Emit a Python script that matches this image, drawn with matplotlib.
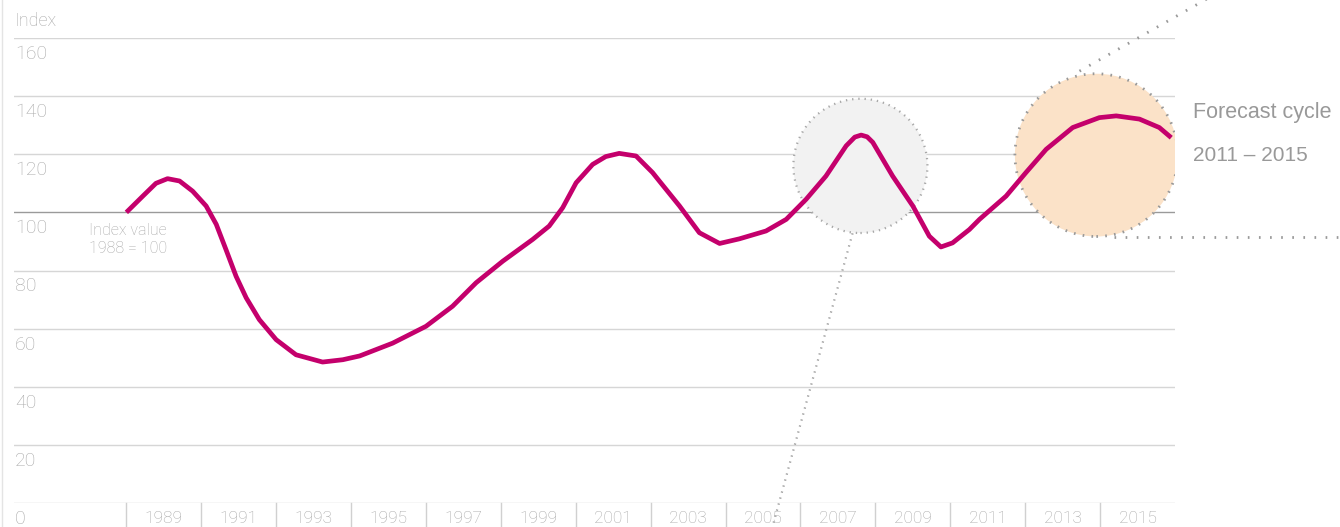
import matplotlib
matplotlib.use("Agg")
import matplotlib.pyplot as plt
import matplotlib.transforms as mtransforms
from matplotlib.patches import Ellipse

# Index curve (year, index value, 1988 = 100)
years = [1988.00, 1988.44, 1988.79, 1989.10, 1989.42, 1989.77, 1990.13, 1990.40,
         1990.66, 1990.93, 1991.20, 1991.55, 1992.00, 1992.53, 1993.24, 1993.78,
         1994.23, 1995.11, 1996.00, 1996.71, 1997.34, 1998.05, 1998.85, 1999.29,
         1999.65, 2000.01, 2000.45, 2000.80, 2001.16, 2001.61, 2002.05, 2002.23,
         2002.77, 2003.30, 2003.84, 2004.37, 2005.08, 2005.62, 2006.15, 2006.68,
         2007.22, 2007.45, 2007.62, 2007.78, 2007.93, 2008.46, 2009.00, 2009.44,
         2009.75, 2010.06, 2010.51, 2010.78, 2011.49, 2012.02, 2012.56, 2013.27,
         2013.98, 2014.43, 2015.05, 2015.58, 2015.90]
index_values = [100.0, 105.6, 110.0, 111.6, 110.8, 107.3, 102.2, 95.9,
                87.2, 78.0, 70.6, 63.1, 56.2, 51.0, 48.5, 49.3,
                50.6, 55.0, 60.8, 67.7, 75.8, 83.2, 90.7, 95.3,
                101.6, 110.2, 116.5, 119.2, 120.3, 119.4, 113.7, 110.8,
                102.2, 93.0, 89.3, 90.9, 93.6, 97.6, 104.5, 112.5,
                122.9, 125.9, 126.6, 126.0, 124.1, 112.5, 102.2, 91.8,
                88.1, 89.5, 94.1, 97.6, 105.6, 113.7, 121.7, 129.2,
                132.6, 133.2, 132.1, 129.2, 125.7]

y_ticks = [0, 20, 40, 60, 80, 100, 120, 140, 160]
x_labels = list(range(1989, 2016, 2))
separators = list(range(1988, 2016, 2))

# highlighted cycles: (center year, center value, diameter in years, diameter in index)
past_cycle = (2007.6, 116.0, 3.58, 46.2)
forecast_cycle = (2013.9, 119.7, 4.35, 56.0)

magenta = "#c4006c"
label_grey = "#a8a8a8"
text_grey = "#999999"

fig = plt.figure(figsize=(13.4, 5.27), dpi=100)
ax = fig.add_axes([14 / 1340, 24 / 527, 1161 / 1340, 465 / 527])
ax.set_xlim(1985, 2016)
ax.set_ylim(0, 160)
ax.axis("off")

# gridlines and y labels (label sits under its line)
for v in y_ticks:
    ax.axhline(v, color="#9a9a9a" if v == 100 else "#d6d6d6", lw=1.0, zorder=1)
    ax.annotate(str(v), xy=(0.001, v), xycoords=("axes fraction", "data"),
                xytext=(0, -5), textcoords="offset points", ha="left", va="top",
                fontsize=14, color=label_grey, family="Roboto", fontweight="light")
ax.annotate("Index", xy=(0.001, 160), xycoords=("axes fraction", "data"),
            xytext=(0, 6), textcoords="offset points", ha="left", va="bottom",
            fontsize=13, color=label_grey, family="Roboto", fontweight="light")

# x axis: year labels between vertical separators
sep_tr = mtransforms.blended_transform_factory(ax.transData, ax.transAxes)
for s in separators:
    ax.plot([s, s], [0, -0.06], transform=sep_tr, color="#d0d0d0", lw=1.0, clip_on=False)
for yr in x_labels:
    ax.annotate(str(yr), xy=(yr, 0), xytext=(0, -6), textcoords="offset points",
                ha="center", va="top", fontsize=12.5, color=label_grey,
                family="Roboto", fontweight="light", annotation_clip=False)

# circles
cx, cy, w, h = past_cycle
ax.add_patch(Ellipse((cx, cy), w, h, facecolor="#f2f2f2", edgecolor="#a8a8a8",
                     lw=1.6, ls=(0, (0.6, 2.2)), zorder=2))
cx, cy, w, h = forecast_cycle
ax.add_patch(Ellipse((cx, cy), w, h, facecolor="#fbe2c8", edgecolor="#999999",
                     lw=2.0, ls=(0, (0.6, 2.6)), zorder=2))

# pointer lines leaving the circles
ax.plot([2007.39, 2005.25], [92.8, -8.3], color="#a0a0a0", lw=1.6,
        ls=(0, (0.6, 2.2)), clip_on=False, zorder=2)
ax.plot([2013.45, 2017.2], [148.6, 176.0], color="#999999", lw=2.0,
        ls=(0, (0.6, 3.4)), clip_on=False, zorder=2)
ax.plot([2014.38, 2020.5], [91.4, 91.4], color="#999999", lw=2.0,
        ls=(0, (0.6, 3.4)), clip_on=False, zorder=2)

# index curve
ax.plot(years, index_values, color=magenta, lw=3.4, solid_joinstyle="round",
        solid_capstyle="butt", zorder=4)

ax.text(1988.05, 96.5, "Index value\n1988 = 100", ha="center", va="top", fontsize=11.5,
        color=label_grey, family="Roboto", fontweight="light", linespacing=1.3)

fig.text(1193 / 1340, 1 - 113 / 527, "Forecast cycle", ha="left", va="center",
         fontsize=15.5, color=text_grey, family="Liberation Sans")
fig.text(1193 / 1340, 1 - 155 / 527, "2011 \u2013 2015", ha="left", va="center",
         fontsize=15, color=text_grey, family="Liberation Sans")

# faint frame edge on the left
fig.add_artist(plt.Line2D([2 / 1340, 2 / 1340], [0, 1], color="#e4e4e4", lw=1.0))

fig.savefig("out.png", dpi=100)
